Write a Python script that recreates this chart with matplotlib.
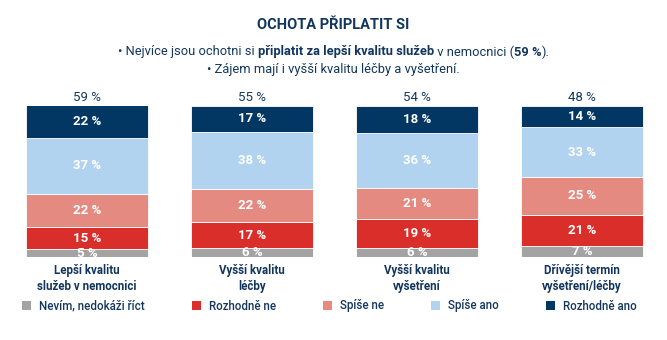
import matplotlib
matplotlib.use("Agg")
import matplotlib.pyplot as plt
from matplotlib.patches import Patch
import numpy as np

plt.rcParams['font.family'] = ['Roboto', 'DejaVu Sans']

categories = ["Lepší kvalitu\nslužeb v nemocnici", "Vyšší kvalitu\nléčby",
              "Vyšší kvalitu\nvyšetření", "Dřívější termín\nvyšetření/léčby"]
series_names = ["Nevím, nedokáži říct", "Rozhodně ne", "Spíše ne", "Spíše ano", "Rozhodně ano"]
nevim = [5, 6, 6, 7]
rozhodne_ne = [15, 17, 19, 21]
spise_ne = [22, 22, 21, 25]
spise_ano = [37, 38, 36, 33]
rozhodne_ano = [22, 17, 18, 14]
totals = [59, 55, 54, 48]

colors = ["#a3a3a3", "#d92e29", "#e48a80", "#b1d3ef", "#023764"]
navy = "#12365e"

fig = plt.figure(figsize=(6.67, 3.40), dpi=100)
ax = fig.add_axes([4.5 / 667, (340 - 257) / 340, 660 / 667, 151 / 340])

x = np.arange(len(categories))
bottom = np.zeros(len(categories))
for name, vals, col in zip(series_names,
                           [nevim, rozhodne_ne, spise_ne, spise_ano, rozhodne_ano], colors):
    vals = np.array(vals, dtype=float)
    bars = ax.bar(x, vals, 0.745, bottom=bottom, color=col, edgecolor="white", linewidth=0.6)
    for b, v, b0 in zip(bars, vals, bottom):
        ax.text(b.get_x() + b.get_width() / 2, b0 + v / 2, f"{int(v)} %",
                ha="center", va="center", color="white", fontsize=9.5, fontweight="bold")
    bottom += vals

for xi, t in zip(x, totals):
    ax.annotate(f"{t} %", (xi, 100), xytext=(0, 1.5), textcoords="offset points",
                ha="center", va="bottom", color=navy, fontsize=9.5, annotation_clip=False)

ax.set_xlim(-0.5, 3.5)
ax.set_ylim(0, 100)
ax.set_xticks(x)
ax.set_xticklabels(categories, fontsize=8.3, fontweight="bold", color=navy, linespacing=1.3)
ax.tick_params(axis="x", length=0, pad=5)
ax.set_yticks([])
for s in ax.spines.values():
    s.set_visible(False)

fig.text(0.5, 1 - 25 / 340, "OCHOTA PŘIPLATIT SI", ha="center", va="center",
         fontsize=10.5, fontweight="bold", color=navy)

# subtitle with mixed weights
renderer = fig.canvas.get_renderer()
def rich_line(y, pieces, size=9.3):
    texts = []
    for s, w in pieces:
        t = fig.text(0, y, s, ha="left", va="center", fontsize=size, fontweight=w, color=navy)
        texts.append(t)
    widths = [t.get_window_extent(renderer).width for t in texts]
    total = sum(widths)
    xpos = (667 - total) / 2
    for t, w in zip(texts, widths):
        t.set_x(xpos / 667)
        xpos += w

rich_line(1 - 52 / 340, [("• Nejvíce jsou ochotni si ", "normal"),
                         ("připlatit za lepší kvalitu služeb", "bold"),
                         (" v nemocnici (", "normal"), ("59 %", "bold"), (").", "normal")])
rich_line(1 - 69 / 340, [("• Zájem mají i vyšší kvalitu léčby a vyšetření.", "normal")])

handles = [Patch(facecolor=c, edgecolor="none") for c in colors]
leg = fig.legend(handles, series_names, loc="center left", bbox_to_anchor=(12 / 667, 1 - 306 / 340),
                 ncol=5, frameon=False, handlelength=0.75, handleheight=0.75,
                 handletextpad=0.7, columnspacing=4.1, labelcolor=navy,
                 prop={"size": 8.3, "weight": "medium"})

fig.savefig("out.png", dpi=100)
